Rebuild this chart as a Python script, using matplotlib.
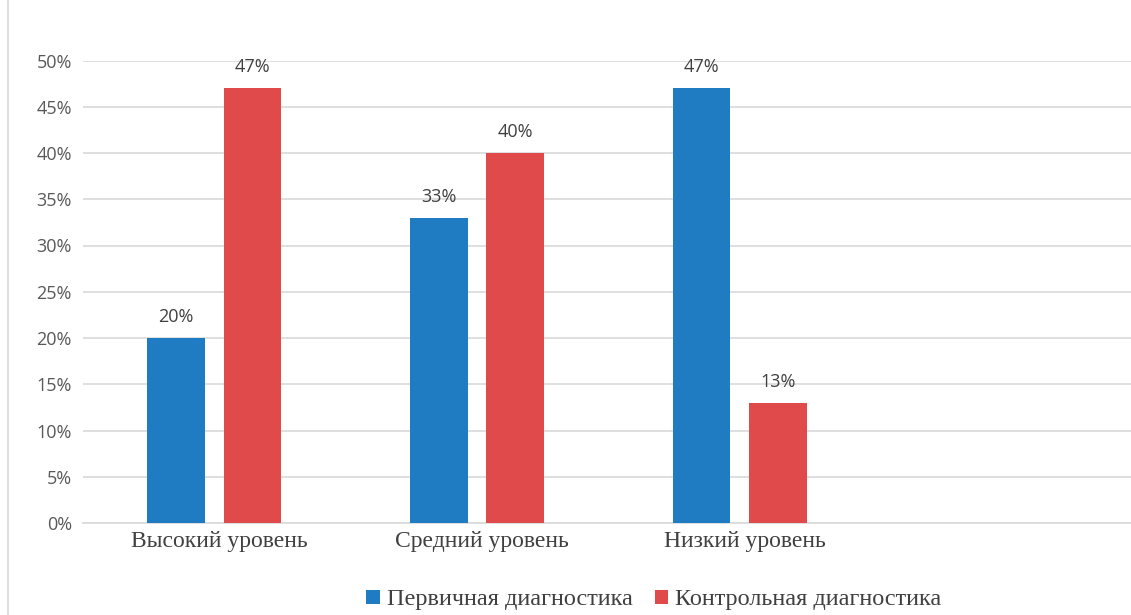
import matplotlib.pyplot as plt
import numpy as np

categories = ["Высокий уровень", "Средний уровень", "Низкий уровень"]
primary = [20, 33, 47]
control = [47, 40, 13]
series_names = ["Первичная диагностика", "Контрольная диагностика"]
ticks = [0, 5, 10, 15, 20, 25, 30, 35, 40, 45, 50]

blue = "#1f7bc2"
red = "#e04a4b"

fig = plt.figure(figsize=(11.31, 6.15), dpi=100)
ax = fig.add_axes([83 / 1131, 1 - 523 / 615, 1 - 83 / 1131, (523 - 60.5) / 615])

x = np.arange(len(categories))
w = 0.22
off = 0.145
b1 = ax.bar(x - off, primary, w, color=blue, label=series_names[0], zorder=3)
b2 = ax.bar(x + off, control, w, color=red, label=series_names[1], zorder=3)

# подписи значений над столбцами
for bars, vals in ((b1, primary), (b2, control)):
    for r, v in zip(bars, vals):
        ax.text(r.get_x() + r.get_width() / 2, v + 1.3, f"{v}%", ha="center", va="bottom",
                fontsize=13, family="Open Sans", color="#404040")

ax.set_xlim(-0.5, 3.49)
ax.set_ylim(0, 50)
ax.set_yticks(ticks)
ax.set_yticklabels([f"{t}%" for t in ticks], fontsize=13, family="Open Sans", color="#595959")
ax.yaxis.grid(True, color="#d9d9d9", linewidth=1.2, zorder=0)
ax.tick_params(axis="y", length=0, pad=8)
ax.set_xticks(x + 0.02)
ax.set_xticklabels(categories, fontsize=17, family="Liberation Serif", color="#404040")
ax.tick_params(axis="x", length=0, pad=6)
for s in ["top", "right", "left"]:
    ax.spines[s].set_visible(False)
ax.spines["bottom"].set_color("#d9d9d9")
ax.spines["bottom"].set_linewidth(1.2)

fig.legend(handles=[b1, b2], loc="center", bbox_to_anchor=(654 / 1131, 1 - 600 / 615), ncol=2,
           frameon=False, prop={"family": "Liberation Serif", "size": 17.5},
           handlelength=0.55, handleheight=0.55, handletextpad=0.3, columnspacing=0.9,
           labelcolor="#404040")

fig.add_artist(plt.Line2D([8 / 1131, 8 / 1131], [0, 1], color="#d9d9d9", linewidth=1.2))

fig.savefig("out.png", dpi=100)
